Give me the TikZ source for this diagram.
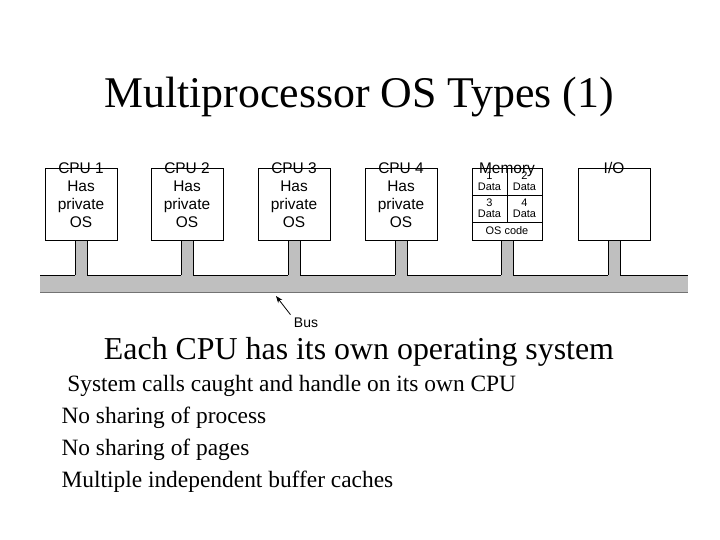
\documentclass[tikz,border=0pt]{standalone}
\usepackage{fontspec}
\setmainfont{Liberation Serif}
\newfontfamily\diag{Liberation Sans}
\usetikzlibrary{arrows.meta,positioning}
\begin{document}
\begin{tikzpicture}[x=1bp, y=-1bp,
    unit/.style={draw, thick, fill=white, minimum width=72bp, minimum height=72bp,
        inner sep=0pt, font=\diag\fontsize{15.5}{18}\selectfont, align=center},
    cell/.style={font=\diag\fontsize{11}{11}\selectfont, align=center, inner sep=0pt},
    lbl/.style={font=\diag\fontsize{15.5}{18}\selectfont, anchor=base},
    line/.style={font=\fontsize{23.5}{26}\selectfont, anchor=west}]
    \useasboundingbox (0,0) rectangle (720,540);
    %% Bus
    \fill[black!25] (40,275) rectangle (688,292);
    \foreach \c in {81,187,294,401,507,614}
        \fill[black!25] (\c-6,239) rectangle (\c+6,276);
    \draw[thick] (40,275) -- (75,275);
    \foreach \a/\b in {87/181,193/288,300/395,407/501,513/608,620/688}
        \draw[thick] (\a,275) -- (\b,275);
    \foreach \c in {81,187,294,401,507,614}
        \draw[thick] (\c-6,240) -- (\c-6,275) (\c+6,240) -- (\c+6,275);
    \draw[black!55] (40,292) -- (688,292);
    %% Boxes
    \node[unit] (cpua) at (81,204) {Has\\private\\OS};
    \node[unit] (cpub) at (187,204) {Has\\private\\OS};
    \node[unit] (cpuc) at (294,204) {Has\\private\\OS};
    \node[unit] (cpud) at (401,204) {Has\\private\\OS};
    \node[unit, minimum width=70bp] (mem) at (507,204) {};
    \node[unit] (io) at (614,204) {};
    \foreach \n/\t in {cpua/CPU 1,cpub/CPU 2,cpuc/CPU 3,cpud/CPU 4,mem/Memory,io/{I/O}}
        \node[lbl] at ([yshift=-6bp]\n.north) {\t};
    %% Memory cells
    \draw[thick] (472,195) -- (542,195);
    \draw (472,222) -- (542,222) (507,168) -- (507,222);
    \node[cell] (da) at (489.5,181.5) {1\\Data};
    \node[cell] (db) at (524.5,181.5) {2\\Data};
    \node[cell] (dc) at (489.5,208.5) {3\\Data};
    \node[cell] (dd) at (524.5,208.5) {4\\Data};
    \node[cell] (osc) at (507,231) {OS code};
    %% Bus label
    \node[font=\diag\fontsize{14}{15}\selectfont] (bus) at (306,323) {Bus};
    \draw[-{Stealth[length=7bp]}, thick] (bus.north west) -- (276,296);
    %% Text
    \node[font=\fontsize{44}{48}\selectfont] (title) at (359,97) {Multiprocessor OS Types (1)};
    \node[font=\fontsize{32}{36}\selectfont] (sub) at (359,352) {Each CPU has its own operating system};
    \node[line] (la) at (58,386) {\ System calls caught and handle on its own CPU};
    \node[line] (lb) at (58,418) {No sharing of process};
    \node[line] (lc) at (58,450) {No sharing of pages};
    \node[line] (ld) at (58,482) {Multiple independent buffer caches};
\end{tikzpicture}
\end{document}
